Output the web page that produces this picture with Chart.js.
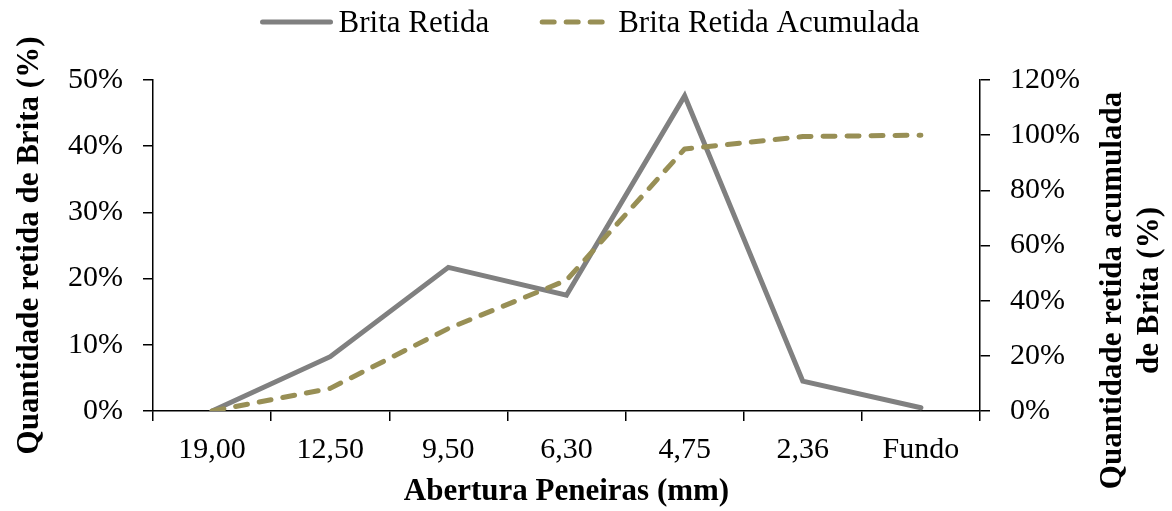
<!DOCTYPE html>
<html>
<head>
<meta charset="utf-8">
<script src="https://cdn.jsdelivr.net/npm/chart.js@4.4.0/dist/chart.umd.min.js"></script>
<style>
  html, body { margin: 0; padding: 0; background: #ffffff; }
  #wrap { width: 1172px; height: 511px; }
</style>
</head>
<body>
<div id="wrap"><canvas id="c" width="1172" height="511"></canvas></div>
<script>
// Sieve openings (mm) and retained gravel per sieve
const categories = ['19,00', '12,50', '9,50', '6,30', '4,75', '2,36', 'Fundo'];
const retida = [0, 8.2, 21.7, 17.5, 47.6, 4.5, 0.5];          // % retained
const acumulada = [0, 8.2, 29.9, 47.4, 95.0, 99.5, 100.0];    // % retained, cumulative
const leftTicks = [0, 10, 20, 30, 40, 50];
const rightTicks = [0, 20, 40, 60, 80, 100, 120];

const seriesNames = ['Brita Retida', 'Brita Retida Acumulada'];
const rightTitle = ['Quantidade retida acumulada', 'de Brita (%)'];

const SERIF = '"Liberation Serif", "Times New Roman", serif';
const GRAY = '#808080';
const OLIVE = '#988F55';

Chart.defaults.font.family = SERIF;
Chart.defaults.color = '#000000';

// Legend row across the top: line sample, then label
const topLegend = {
  id: 'topLegend',
  afterDraw(chart) {
    const ctx = chart.ctx;
    const lineLen = 72, gap = 6, itemGap = 51, y = 22;
    ctx.save();
    ctx.font = '31px ' + SERIF;
    const items = chart.data.datasets.map(ds => ({
      ds, w: ctx.measureText(ds.label).width
    }));
    let total = 0;
    items.forEach((it, i) => { total += lineLen + gap + it.w + (i ? itemGap : 0); });
    let x = (chart.width - total) / 2 + 4;
    items.forEach((it, i) => {
      if (i) x += itemGap;
      ctx.beginPath();
      ctx.strokeStyle = it.ds.borderColor;
      ctx.lineWidth = it.ds.borderWidth;
      ctx.lineCap = 'round';
      ctx.setLineDash(it.ds.borderDash || []);
      ctx.moveTo(x + 2, y);
      ctx.lineTo(x + lineLen - 2, y);
      ctx.stroke();
      ctx.setLineDash([]);
      x += lineLen + gap;
      ctx.fillStyle = '#000';
      ctx.textAlign = 'left';
      ctx.textBaseline = 'middle';
      ctx.fillText(it.ds.label, x, y + 2);
      x += it.w;
    });
    ctx.restore();
  }
};

// Right-hand axis title, read bottom to top like the left one
const rightAxisTitle = {
  id: 'rightAxisTitle',
  afterDraw(chart) {
    const ctx = chart.ctx;
    const area = chart.chartArea;
    const cy = (area.top + area.bottom) / 2 + 45;
    const xs = [1113, 1150];
    ctx.save();
    ctx.font = 'bold 31px ' + SERIF;
    ctx.fillStyle = '#000';
    ctx.textAlign = 'center';
    ctx.textBaseline = 'middle';
    rightTitle.forEach((t, i) => {
      ctx.save();
      ctx.translate(xs[i], cy);
      ctx.rotate(-Math.PI / 2);
      ctx.fillText(t, 0, 0);
      ctx.restore();
    });
    ctx.restore();
  }
};

const axisGrid = { display: true, drawOnChartArea: false, drawTicks: true, tickLength: 10, color: '#000', lineWidth: 1.5 };
const axisBorder = { display: true, color: '#000', width: 1.5 };

new Chart(document.getElementById('c'), {
  type: 'line',
  data: {
    labels: categories,
    datasets: [
      {
        label: seriesNames[0],
        data: retida,
        yAxisID: 'y',
        borderColor: GRAY,
        backgroundColor: GRAY,
        borderWidth: 5,
        borderCapStyle: 'round',
        borderJoinStyle: 'miter',
        pointRadius: 0,
        tension: 0,
        fill: false,
        order: 1
      },
      {
        label: seriesNames[1],
        data: acumulada,
        yAxisID: 'y1',
        borderColor: OLIVE,
        backgroundColor: OLIVE,
        borderWidth: 5,
        borderDash: [12, 12],
        borderCapStyle: 'round',
        borderJoinStyle: 'round',
        pointRadius: 0,
        tension: 0,
        fill: false,
        order: 0
      }
    ]
  },
  options: {
    responsive: false,
    animation: false,
    events: [],
    layout: { padding: { top: 80, left: 0, right: 0, bottom: 0 } },
    plugins: {
      legend: { display: false },
      tooltip: { enabled: false }
    },
    scales: {
      x: {
        type: 'category',
        offset: true,
        grid: Object.assign({ offset: true }, axisGrid),
        border: axisBorder,
        ticks: { font: { size: 30 }, color: '#000', padding: 11, maxRotation: 0, autoSkip: false },
        title: {
          display: true,
          text: 'Abertura Peneiras (mm)',
          font: { size: 31, weight: 'bold' },
          color: '#000',
          padding: { top: 0, bottom: 0 }
        },
        afterFit(s) { s.height = 100; }
      },
      y: {
        position: 'left',
        min: 0,
        max: 50,
        grid: axisGrid,
        border: axisBorder,
        afterBuildTicks(s) { s.ticks = leftTicks.map(v => ({ value: v })); },
        ticks: { font: { size: 30 }, color: '#000', padding: 20, callback: v => v + '%' },
        title: {
          display: true,
          text: 'Quantidade retida de Brita (%)',
          font: { size: 31, weight: 'bold' },
          color: '#000',
          padding: { top: 11, bottom: 0 }
        },
        afterFit(s) { s.width = 153; }
      },
      y1: {
        position: 'right',
        min: 0,
        max: 120,
        grid: axisGrid,
        border: axisBorder,
        afterBuildTicks(s) { s.ticks = rightTicks.map(v => ({ value: v })); },
        ticks: { font: { size: 30 }, color: '#000', padding: 20, callback: v => v + '%' },
        afterFit(s) { s.width = 1172 - 980; }
      }
    }
  },
  plugins: [topLegend, rightAxisTitle]
});
</script>
</body>
</html>
